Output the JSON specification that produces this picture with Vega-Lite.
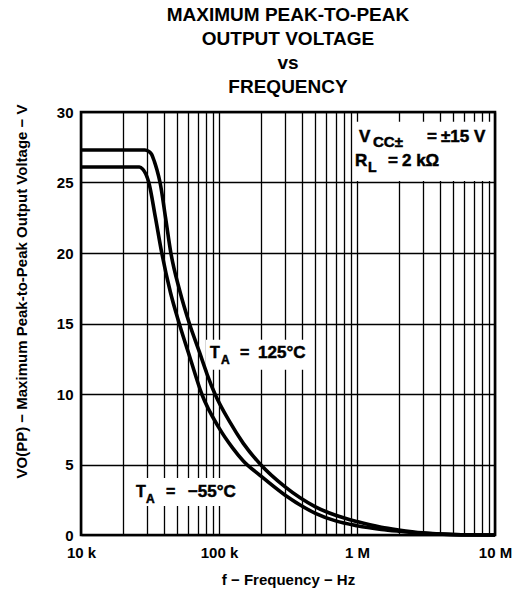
{
  "$schema": "https://vega.github.io/schema/vega-lite/v6.json",
  "autosize": {"type": "none"},
  "padding": {"left": 81, "top": 112, "right": 32, "bottom": 56},
  "width": 414,
  "height": 423,
  "background": "white",
  "config": {
    "font": "Liberation Sans",
    "text": {"font": "Liberation Sans", "fontWeight": 700, "color": "black", "align": "left", "baseline": "alphabetic", "stroke": "black", "strokeWidth": 0.5},
    "view": {"stroke": "black", "strokeWidth": 2.6},
    "axis": {"labelFont": "Liberation Sans", "titleFont": "Liberation Sans", "labelColor": "black", "titleColor": "black", "gridColor": "black", "gridOpacity": 1, "gridWidth": 1.3, "domain": false, "ticks": false}
  },
  "title": {
    "text": ["MAXIMUM PEAK-TO-PEAK", "OUTPUT VOLTAGE", "vs", "FREQUENCY"],
    "font": "Liberation Sans",
    "fontSize": 19,
    "fontWeight": "bold",
    "color": "black",
    "lineHeight": 24,
    "anchor": "middle",
    "frame": "group",
    "offset": 7
  },
  "datasets": {
    "one": [{"k": 1}],
    "curves": [
      {"t": "125", "f": 10000, "v": 27.3},
      {"t": "125", "f": 20000, "v": 27.3},
      {"t": "125", "f": 29000, "v": 27.3},
      {"t": "125", "f": 31000, "v": 27.2},
      {"t": "125", "f": 32500, "v": 27.0},
      {"t": "125", "f": 34000, "v": 26.5},
      {"t": "125", "f": 35500, "v": 25.9},
      {"t": "125", "f": 37400, "v": 25.0},
      {"t": "125", "f": 41000, "v": 22.5},
      {"t": "125", "f": 44800, "v": 20.0},
      {"t": "125", "f": 52000, "v": 17.3},
      {"t": "125", "f": 61000, "v": 15.0},
      {"t": "125", "f": 72000, "v": 13.0},
      {"t": "125", "f": 82000, "v": 11.4},
      {"t": "125", "f": 93500, "v": 10.0},
      {"t": "125", "f": 120000, "v": 8.0},
      {"t": "125", "f": 150000, "v": 6.5},
      {"t": "125", "f": 200000, "v": 5.0},
      {"t": "125", "f": 300000, "v": 3.43},
      {"t": "125", "f": 500000, "v": 2.0},
      {"t": "125", "f": 700000, "v": 1.4},
      {"t": "125", "f": 1000000, "v": 0.95},
      {"t": "125", "f": 1500000, "v": 0.55},
      {"t": "125", "f": 2000000, "v": 0.36},
      {"t": "125", "f": 3000000, "v": 0.15},
      {"t": "125", "f": 5000000, "v": 0.04},
      {"t": "125", "f": 10000000, "v": 0.0},
      {"t": "-55", "f": 10000, "v": 26.1},
      {"t": "-55", "f": 20000, "v": 26.1},
      {"t": "-55", "f": 26500, "v": 26.1},
      {"t": "-55", "f": 28000, "v": 25.95},
      {"t": "-55", "f": 29500, "v": 25.6},
      {"t": "-55", "f": 31000, "v": 25.0},
      {"t": "-55", "f": 34500, "v": 22.6},
      {"t": "-55", "f": 38500, "v": 20.0},
      {"t": "-55", "f": 44500, "v": 17.2},
      {"t": "-55", "f": 51500, "v": 15.0},
      {"t": "-55", "f": 62000, "v": 12.5},
      {"t": "-55", "f": 75000, "v": 10.0},
      {"t": "-55", "f": 100000, "v": 7.6},
      {"t": "-55", "f": 125000, "v": 6.2},
      {"t": "-55", "f": 150000, "v": 5.25},
      {"t": "-55", "f": 200000, "v": 4.2},
      {"t": "-55", "f": 300000, "v": 2.84},
      {"t": "-55", "f": 500000, "v": 1.54},
      {"t": "-55", "f": 700000, "v": 1.0},
      {"t": "-55", "f": 1000000, "v": 0.66},
      {"t": "-55", "f": 1500000, "v": 0.4},
      {"t": "-55", "f": 2000000, "v": 0.27},
      {"t": "-55", "f": 3000000, "v": 0.12},
      {"t": "-55", "f": 5000000, "v": 0.03},
      {"t": "-55", "f": 10000000, "v": 0.0}
    ]
  },
  "layer": [
    {
      "data": {"name": "one"},
      "mark": {"type": "rect", "color": "white"},
      "encoding": {
        "x": {"datum": 935000, "type": "quantitative", "scale": {"type": "log", "domain": [10000, 10000000], "nice": false}}, "x2": {"datum": 9670000},
        "y": {"datum": 29.3, "type": "quantitative", "scale": {"domain": [0, 30], "nice": false, "zero": true}}, "y2": {"datum": 25.1}
      }
    },
    {
      "data": {"name": "one"},
      "mark": {"type": "rect", "color": "white"},
      "encoding": {
        "x": {"datum": 80500, "type": "quantitative"}, "x2": {"datum": 464000},
        "y": {"datum": 13.85, "type": "quantitative"}, "y2": {"datum": 11.72}
      }
    },
    {
      "data": {"name": "one"},
      "mark": {"type": "rect", "color": "white"},
      "encoding": {
        "x": {"datum": 21900, "type": "quantitative"}, "x2": {"datum": 165000},
        "y": {"datum": 4.05, "type": "quantitative"}, "y2": {"datum": 2.06}
      }
    },
    {
      "data": {"name": "curves"},
      "mark": {"type": "line", "color": "black", "strokeWidth": 3.6, "interpolate": "monotone"},
      "encoding": {
        "x": {
          "field": "f", "type": "quantitative",
          "scale": {"type": "log", "domain": [10000, 10000000], "nice": false},
          "axis": {
            "title": "f − Frequency − Hz",
            "titleFontSize": 15, "titleFontWeight": "bold", "titlePadding": 12,
            "labelFontSize": 15, "labelFontWeight": "bold", "labelPadding": 10,
            "grid": true,
            "values": [10000, 20000, 30000, 40000, 50000, 60000, 70000, 80000, 90000, 100000, 200000, 300000, 400000, 500000, 600000, 700000, 800000, 900000, 1000000, 2000000, 3000000, 4000000, 5000000, 6000000, 7000000, 8000000, 9000000, 10000000],
            "labelExpr": "datum.value == 10000 ? '10 k' : datum.value == 100000 ? '100 k' : datum.value == 1000000 ? '1 M' : datum.value == 10000000 ? '10 M' : ''",
            "labelOverlap": false,
            "labelFlush": false
          }
        },
        "y": {
          "field": "v", "type": "quantitative",
          "scale": {"domain": [0, 30], "nice": false, "zero": true},
          "axis": {
            "title": "VO(PP) − Maximum Peak-to-Peak Output Voltage − V",
            "titleFontSize": 15, "titleFontWeight": "bold", "titlePadding": 27,
            "titleY": 179, "titleAnchor": null,
            "labelFontSize": 15, "labelFontWeight": "bold", "labelPadding": 8,
            "grid": true,
            "values": [0, 5, 10, 15, 20, 25, 30]
          }
        },
        "detail": {"field": "t"}
      }
    },
    {
      "data": {"name": "one"},
      "mark": {"type": "text", "text": "V", "fontSize": 17, "fontWeight": 700},
      "encoding": {"x": {"datum": 1034000, "type": "quantitative"}, "y": {"datum": 27.9, "type": "quantitative"}}
    },
    {
      "data": {"name": "one"},
      "mark": {"type": "text", "text": "CC±", "fontSize": 15, "fontWeight": 700, "dx": 14, "dy": 5},
      "encoding": {"x": {"datum": 1034000, "type": "quantitative"}, "y": {"datum": 27.9, "type": "quantitative"}}
    },
    {
      "data": {"name": "one"},
      "mark": {"type": "text", "text": "=", "fontSize": 17, "fontWeight": 700, "dx": 68},
      "encoding": {"x": {"datum": 1034000, "type": "quantitative"}, "y": {"datum": 27.9, "type": "quantitative"}}
    },
    {
      "data": {"name": "one"},
      "mark": {"type": "text", "text": "±15 V", "fontSize": 17, "fontWeight": 700, "dx": 82},
      "encoding": {"x": {"datum": 1034000, "type": "quantitative"}, "y": {"datum": 27.9, "type": "quantitative"}}
    },
    {
      "data": {"name": "one"},
      "mark": {"type": "text", "text": "R", "fontSize": 17, "fontWeight": 700},
      "encoding": {"x": {"datum": 967000, "type": "quantitative"}, "y": {"datum": 26.2, "type": "quantitative"}}
    },
    {
      "data": {"name": "one"},
      "mark": {"type": "text", "text": "L", "fontSize": 14, "fontWeight": 700, "dx": 13, "dy": 6},
      "encoding": {"x": {"datum": 967000, "type": "quantitative"}, "y": {"datum": 26.2, "type": "quantitative"}}
    },
    {
      "data": {"name": "one"},
      "mark": {"type": "text", "text": "=", "fontSize": 17, "fontWeight": 700, "dx": 33},
      "encoding": {"x": {"datum": 967000, "type": "quantitative"}, "y": {"datum": 26.2, "type": "quantitative"}}
    },
    {
      "data": {"name": "one"},
      "mark": {"type": "text", "text": "2 kΩ", "fontSize": 17, "fontWeight": 700, "dx": 47},
      "encoding": {"x": {"datum": 967000, "type": "quantitative"}, "y": {"datum": 26.2, "type": "quantitative"}}
    },
    {
      "data": {"name": "one"},
      "mark": {"type": "text", "text": "T", "fontSize": 16, "fontWeight": 700},
      "encoding": {"x": {"datum": 86100, "type": "quantitative"}, "y": {"datum": 12.55, "type": "quantitative"}}
    },
    {
      "data": {"name": "one"},
      "mark": {"type": "text", "text": "A", "fontSize": 12, "fontWeight": 700, "dx": 11, "dy": 6},
      "encoding": {"x": {"datum": 86100, "type": "quantitative"}, "y": {"datum": 12.55, "type": "quantitative"}}
    },
    {
      "data": {"name": "one"},
      "mark": {"type": "text", "text": "=", "fontSize": 16, "fontWeight": 700, "dx": 30},
      "encoding": {"x": {"datum": 86100, "type": "quantitative"}, "y": {"datum": 12.55, "type": "quantitative"}}
    },
    {
      "data": {"name": "one"},
      "mark": {"type": "text", "text": "125°C", "fontSize": 17, "fontWeight": 700, "dx": 48},
      "encoding": {"x": {"datum": 86100, "type": "quantitative"}, "y": {"datum": 12.55, "type": "quantitative"}}
    },
    {
      "data": {"name": "one"},
      "mark": {"type": "text", "text": "T", "fontSize": 16, "fontWeight": 700},
      "encoding": {"x": {"datum": 25000, "type": "quantitative"}, "y": {"datum": 2.72, "type": "quantitative"}}
    },
    {
      "data": {"name": "one"},
      "mark": {"type": "text", "text": "A", "fontSize": 12, "fontWeight": 700, "dx": 10, "dy": 6},
      "encoding": {"x": {"datum": 25000, "type": "quantitative"}, "y": {"datum": 2.72, "type": "quantitative"}}
    },
    {
      "data": {"name": "one"},
      "mark": {"type": "text", "text": "=", "fontSize": 16, "fontWeight": 700, "dx": 30},
      "encoding": {"x": {"datum": 25000, "type": "quantitative"}, "y": {"datum": 2.72, "type": "quantitative"}}
    },
    {
      "data": {"name": "one"},
      "mark": {"type": "text", "text": "−55°C", "fontSize": 17, "fontWeight": 700, "dx": 52},
      "encoding": {"x": {"datum": 25000, "type": "quantitative"}, "y": {"datum": 2.72, "type": "quantitative"}}
    }
  ]
}
